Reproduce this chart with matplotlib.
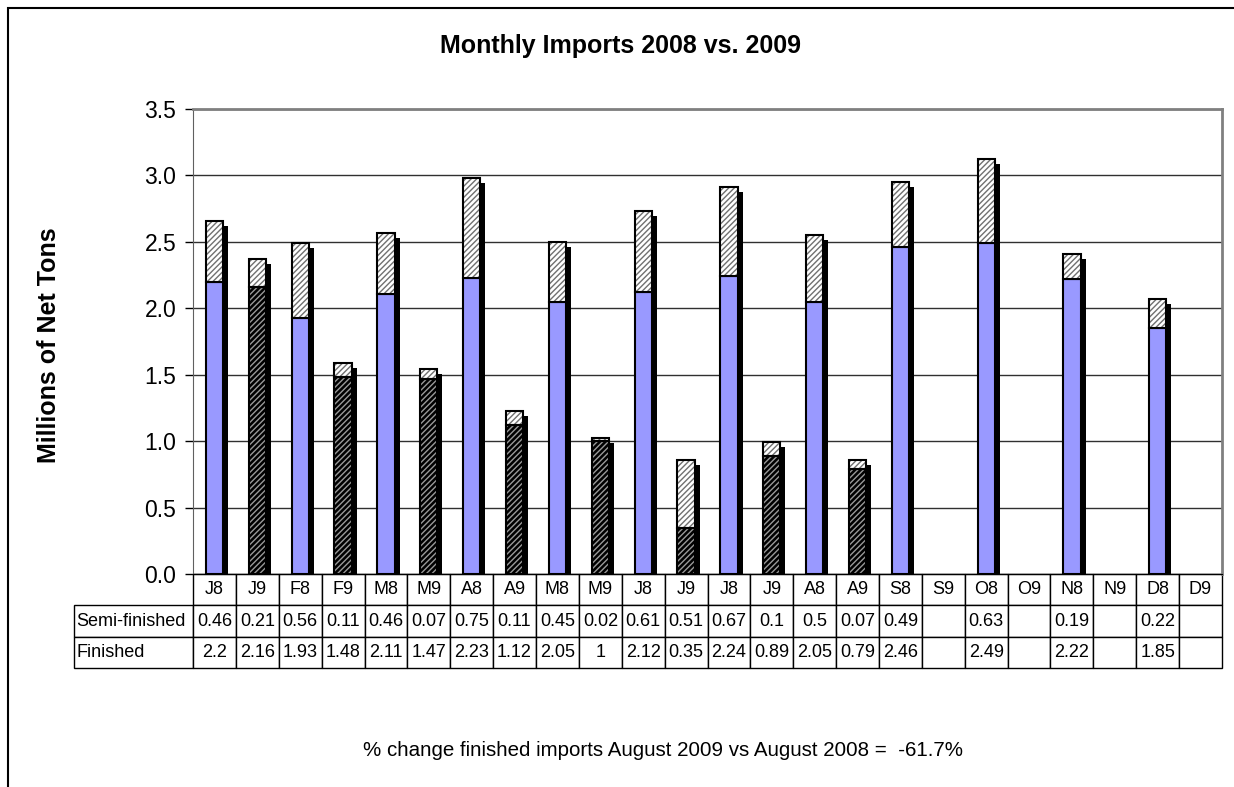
import numpy as np
import matplotlib
matplotlib.use("Agg")
from matplotlib import pyplot as plt
from matplotlib.patches import Rectangle

plt.rcParams['font.family'] = ['Liberation Sans', 'DejaVu Sans']
plt.rcParams['hatch.linewidth'] = 1.0

# categorias (mes + ano)
cats = ["J8", "J9", "F8", "F9", "M8", "M9", "A8", "A9", "M8", "M9", "J8", "J9",
        "J8", "J9", "A8", "A9", "S8", "S9", "O8", "O9", "N8", "N9", "D8", "D9"]
semi = [0.46, 0.21, 0.56, 0.11, 0.46, 0.07, 0.75, 0.11, 0.45, 0.02, 0.61, 0.51,
        0.67, 0.1, 0.5, 0.07, 0.49, np.nan, 0.63, np.nan, 0.19, np.nan, 0.22, np.nan]
finished = [2.2, 2.16, 1.93, 1.48, 2.11, 1.47, 2.23, 1.12, 2.05, 1, 2.12, 0.35,
            2.24, 0.89, 2.05, 0.79, 2.46, np.nan, 2.49, np.nan, 2.22, np.nan, 1.85, np.nan]
semi_txt = ["0.46", "0.21", "0.56", "0.11", "0.46", "0.07", "0.75", "0.11", "0.45", "0.02",
            "0.61", "0.51", "0.67", "0.1", "0.5", "0.07", "0.49", "", "0.63", "", "0.19", "", "0.22", ""]
fin_txt = ["2.2", "2.16", "1.93", "1.48", "2.11", "1.47", "2.23", "1.12", "2.05", "1",
           "2.12", "0.35", "2.24", "0.89", "2.05", "0.79", "2.46", "", "2.49", "", "2.22", "", "1.85", ""]
row_labels = ["", "Semi-finished", "Finished"]

W, H = 1234, 787
fig = plt.figure(figsize=(W / 100, H / 100), dpi=100)
ax = fig.add_axes([193 / W, 1 - 574 / H, 1029 / W, 465 / H])

x = np.arange(len(cats))
semi = np.array(semi)
finished = np.array(finished)
total = finished + semi
is09 = np.array([c.endswith("9") for c in cats])
bw = 0.40
dx = 5 / 42.9          # sombra: ~5px para direita
dy = 5 / 465 * 3.5     # ~5px para baixo

# sombra preta
ax.bar(x + dx, total - dy, bw, color="black", zorder=2)

# finished 2008 (azul) e 2009 (preto hachurado)
ax.bar(x[~is09], finished[~is09], bw, color="#9999FF", edgecolor="black", lw=1.5, zorder=3)
ax.bar(x[is09], finished[is09], bw, color="black", edgecolor="#9a9a9a", lw=0, hatch="//////", zorder=3)
ax.bar(x[is09], finished[is09], bw, fill=False, edgecolor="black", lw=1.5, zorder=4)

# semi-finished (branco hachurado)
ax.bar(x, semi, bw, bottom=finished, color="white", edgecolor="#707070", lw=0, hatch="//////", zorder=3)
ax.bar(x, semi, bw, bottom=finished, fill=False, edgecolor="black", lw=1.5, zorder=4)

ax.set_xlim(-0.5, len(cats) - 0.5)
ax.set_ylim(0, 3.5)
ax.set_yticks(np.arange(0, 3.51, 0.5))
ax.set_yticklabels(["%.1f" % v for v in np.arange(0, 3.51, 0.5)])
ax.tick_params(axis="y", labelsize=16.5, length=6, width=1, direction="out", pad=6)
ax.set_xticks([])
ax.yaxis.grid(True, color="#303030", lw=1)
ax.set_axisbelow(True)
for s in ["top", "right"]:
    ax.spines[s].set_color("#808080")
    ax.spines[s].set_linewidth(2)
ax.spines["left"].set_color("#606060")
ax.spines["bottom"].set_color("black")

# tabela de dados: primeira coluna = rotulos das linhas
lab_w = 119 / 1029
rows = [[lab] + vals for lab, vals in zip(row_labels, [cats, semi_txt, fin_txt])]
tab = ax.table(cellText=rows, cellLoc="center",
               bbox=[-lab_w, -94 / 465, 1 + lab_w, 94 / 465])
tab.auto_set_font_size(False)
tab.set_fontsize(13)
for (r, c), cell in tab.get_celld().items():
    cell.set_linewidth(1)
    cell.set_width(lab_w if c == 0 else 1 / 24)
    cell.set_height(31 / 465)
    if c == 0:
        cell.PAD = 0.02
        cell.get_text().set_horizontalalignment("left")
        if r == 0:
            cell.set_visible(False)

fig.text(621 / W, 1 - 46 / H, "Monthly Imports 2008 vs. 2009", ha="center", va="center",
         fontsize=18, fontweight="bold")
fig.text(49 / W, 1 - 345 / H, "Millions of Net Tons", ha="center", va="center",
         rotation=90, fontsize=18, fontweight="bold")
fig.text(663 / W, 1 - 750 / H, "% change finished imports August 2009 vs August 2008 =  -61.7%",
         ha="center", va="center", fontsize=14.8)

# moldura externa
fig.patches.append(Rectangle((8 / W, -0.1), 1.5, 1.1 - 8 / H, transform=fig.transFigure,
                             fill=False, edgecolor="black", lw=1.5))

fig.savefig("out.png", dpi=100)
